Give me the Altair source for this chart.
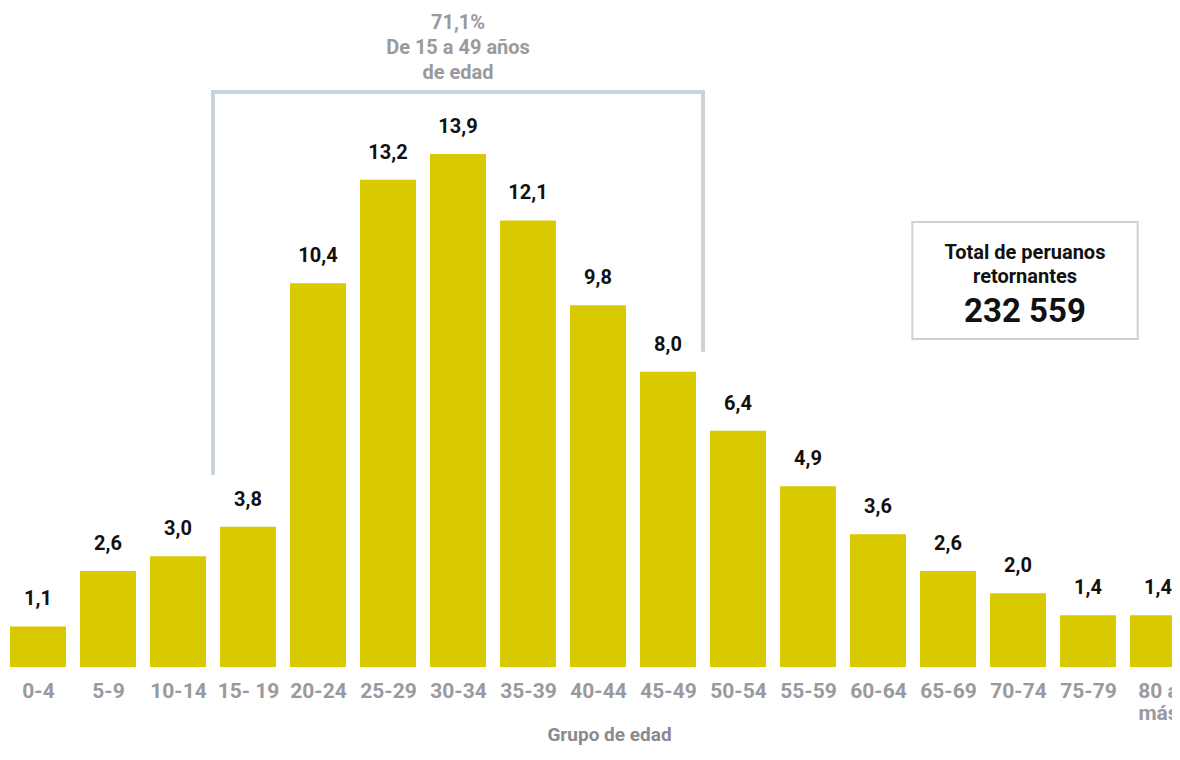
import json
import altair as alt
import pandas as pd

# ---- data ----
categories = ["0-4", "5-9", "10-14", "15- 19", "20-24", "25-29", "30-34", "35-39",
              "40-44", "45-49", "50-54", "55-59", "60-64", "65-69", "70-74", "75-79",
              "80 a más"]
values = [1.1, 2.6, 3.0, 3.8, 10.4, 13.2, 13.9, 12.1, 9.8, 8.0, 6.4, 4.9, 3.6, 2.6,
          2.0, 1.4, 1.4]
labels = [f"{v:.1f}".replace(".", ",") for v in values]
positions = list(range(len(categories)))

# bracket annotation (data units: x = category index, y = percent)
bracket_x = [2.5, 9.5]
bracket_top = 15.58
bracket_bottoms = [5.2, 8.54]
bracket_text = ["71,1%", "De 15 a 49 años", "de edad"]
bracket_text_x = 6
bracket_text_y = 17.28

# total box (data units)
box_x = [12.49, 15.71]
box_y = [12.06, 8.89]
box_text_x = 14.1
box_lines = ["Total de peruanos", "retornantes"]
box_lines_y = 11.05
box_total = "232 559"
box_total_y = 9.35

PX_PER_UNIT = 70.0
PLOT_W = 1164
X_MIN = -0.4286
X_DOMAIN = [X_MIN, X_MIN + PLOT_W / PX_PER_UNIT]
Y_MAX = 17.856
HALF_BAR = 0.4
BAR = "#D8C900"
BRACKET = "#C8D3DB"
FONT = "Roboto"

df = pd.DataFrame({"pos": positions, "grupo": categories, "pct": values, "label": labels})

xscale = alt.Scale(domain=X_DOMAIN, nice=False, zero=False)
yscale = alt.Scale(domain=[0, Y_MAX], nice=False, zero=True)

cat_js = json.dumps(categories, ensure_ascii=False)
x_axis = alt.Axis(
    title="Grupo de edad", values=positions, grid=False, domain=False, ticks=False,
    tickSize=0, labelAngle=0, labelColor="#9A9A9E", labelFont=FONT, labelFontSize=21,
    labelFontWeight="bold", labelPadding=13, labelLineHeight=22, labelOverlap=False,
    labelFlush=False, labelBound=False,
    labelExpr=f"datum.value == 16 ? ['80 a', 'más'] : {cat_js}[datum.value]",
    titleColor="#8A8A8E", titleFont=FONT, titleFontSize=19, titleFontWeight="bold",
    titleX=601, titleY=67, titleBaseline="middle", titleAlign="center",
)

bars = alt.Chart(df).transform_calculate(
    x0=f"datum.pos - {HALF_BAR}", x1=f"datum.pos + {HALF_BAR}"
).mark_bar(color=BAR).encode(
    x=alt.X("x0:Q", scale=xscale, axis=x_axis),
    x2="x1:Q",
    y=alt.Y("pct:Q", scale=yscale, axis=None),
    y2=alt.datum(0),
)

bar_text = alt.Chart(df).mark_text(
    font=FONT, fontSize=20, fontWeight="bold", color="#111111",
    baseline="alphabetic", dy=-21,
).encode(
    x=alt.X("pos:Q", scale=xscale),
    y=alt.Y("pct:Q", scale=yscale),
    text="label:N",
)

# bracket
br_h = pd.DataFrame({"a": [bracket_x[0]], "b": [bracket_x[1]], "y": [bracket_top]})
bracket_h = alt.Chart(br_h).mark_rule(color=BRACKET, strokeWidth=4).encode(
    x=alt.X("a:Q", scale=xscale), x2="b:Q", y=alt.Y("y:Q", scale=yscale),
)
br_v = pd.DataFrame({"x": bracket_x, "y": [bracket_top] * 2, "y2": bracket_bottoms})
bracket_v = alt.Chart(br_v).mark_rule(color=BRACKET, strokeWidth=4, yOffset=-2).encode(
    x=alt.X("x:Q", scale=xscale), y=alt.Y("y:Q", scale=yscale), y2="y2:Q",
)
br_t = pd.DataFrame({"x": [bracket_text_x], "y": [bracket_text_y], "t": [bracket_text]})
bracket_txt = alt.Chart(br_t).mark_text(
    font=FONT, fontSize=20, fontWeight="bold", color="#9A9A9E",
    baseline="alphabetic", lineHeight=25, align="center",
).encode(x=alt.X("x:Q", scale=xscale), y=alt.Y("y:Q", scale=yscale), text="t")

# total box
bx = pd.DataFrame({"x": [box_x[0]], "x2": [box_x[1]], "y": [box_y[0]], "y2": [box_y[1]]})
box = alt.Chart(bx).mark_rect(fill="white", stroke=BRACKET, strokeWidth=2).encode(
    x=alt.X("x:Q", scale=xscale), x2="x2:Q", y=alt.Y("y:Q", scale=yscale), y2="y2:Q",
)
bt1 = pd.DataFrame({"x": [box_text_x], "y": [box_lines_y], "t": [box_lines]})
box_t1 = alt.Chart(bt1).mark_text(
    font=FONT, fontSize=20, fontWeight="bold", color="#111111",
    baseline="alphabetic", lineHeight=24, align="center",
).encode(x=alt.X("x:Q", scale=xscale), y=alt.Y("y:Q", scale=yscale), text="t")
bt2 = pd.DataFrame({"x": [box_text_x], "y": [box_total_y], "t": [box_total]})
box_t2 = alt.Chart(bt2).mark_text(
    font=FONT, fontSize=33, fontWeight="bold", color="#111111",
    baseline="alphabetic", align="center",
).encode(x=alt.X("x:Q", scale=xscale), y=alt.Y("y:Q", scale=yscale), text="t:N")

chart = alt.layer(
    bars, bar_text, bracket_h, bracket_v, bracket_txt, box, box_t1, box_t2
).properties(
    width=PLOT_W, height=659,
    autosize=alt.AutoSizeParams(type="none"),
    padding={"left": 0, "top": 0, "right": 0, "bottom": 80},
).configure_view(stroke=None)

chart.save("out.html", embed_options={"renderer": "svg", "actions": False})
